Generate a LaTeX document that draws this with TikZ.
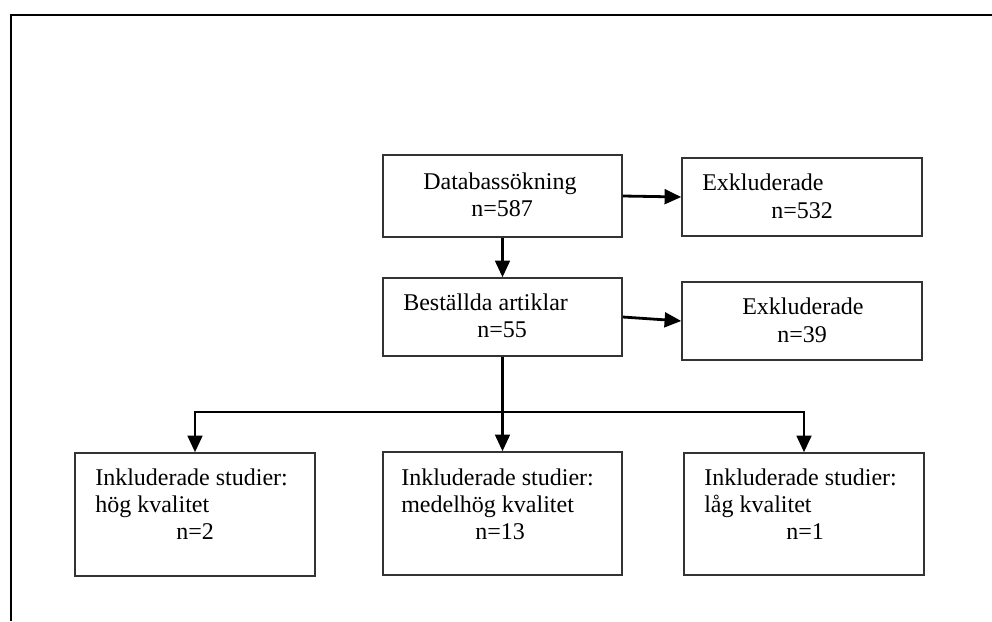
\documentclass[tikz,border=0pt]{standalone}
\usepackage{fontspec}
\setmainfont{Liberation Serif}
\usetikzlibrary{arrows.meta}
\begin{document}
\begin{tikzpicture}[x=0.75pt,y=-0.75pt,
  box/.style={draw=black!80,line width=1.1pt,rectangle,inner sep=0pt},
  txt/.style={inner sep=0pt,anchor=base west,font=\fontsize{18}{22}\selectfont},
  arr/.style={draw=black,line width=2.1pt,-{Triangle[length=12.5pt,width=11pt]}},
  frame/.style={draw=black,line width=1.5pt}]
\useasboundingbox (0,0) rectangle (992,621);
\draw[frame] (10.7,621) -- (10.7,14.7) -- (992,14.7);
% boxes
\node[box,minimum width=239*0.75pt,minimum height=82*0.75pt] (db) at (502.5,196) {};
\node[box,minimum width=240*0.75pt,minimum height=78*0.75pt] (ex1) at (802,197) {};
\node[box,minimum width=239*0.75pt,minimum height=78*0.75pt] (best) at (502.5,317) {};
\node[box,minimum width=240*0.75pt,minimum height=78*0.75pt] (ex2) at (802,321) {};
\node[box,minimum width=240*0.75pt,minimum height=123*0.75pt] (b1) at (195,514.5) {};
\node[box,minimum width=239*0.75pt,minimum height=123*0.75pt] (b2) at (502.5,513.5) {};
\node[box,minimum width=240*0.75pt,minimum height=122*0.75pt] (b3) at (804,514) {};
% texts
\node[txt] (t1) at (423,189) {Databassökning};
\node[txt] (t2) at (471,216) {n=587};
\node[txt] (t3) at (702,190) {Exkluderade};
\node[txt] (t4) at (771,218) {n=532};
\node[txt] (t5) at (403,310) {Beställda artiklar};
\node[txt] (t6) at (477,337) {n=55};
\node[txt] (t7) at (742,314) {Exkluderade};
\node[txt] (t8) at (777,342) {n=39};
\node[txt] (t9) at (95,485) {Inkluderade studier:};
\node[txt] (t10) at (95,512) {hög kvalitet};
\node[txt] (t11) at (176,539) {n=2};
\node[txt] (t12) at (401,485) {Inkluderade studier:};
\node[txt] (t13) at (401,512) {medelhög kvalitet};
\node[txt] (t14) at (475,539) {n=13};
\node[txt] (t15) at (704,485) {Inkluderade studier:};
\node[txt] (t16) at (704,512) {låg kvalitet};
\node[txt] (t17) at (786,539) {n=1};
% connectors
\coordinate (j) at (502.5,412);
\draw[arr] (db.east) -- (ex1.west);
\draw[arr] (db.south) -- (best.north);
\draw[arr] (best.east) -- (ex2.west);
\draw[arr] (best.south) -- (b2.north);
\draw[arr] (j) -| (b1.north);
\draw[arr] (j) -| (b3.north);
\end{tikzpicture}
\end{document}
